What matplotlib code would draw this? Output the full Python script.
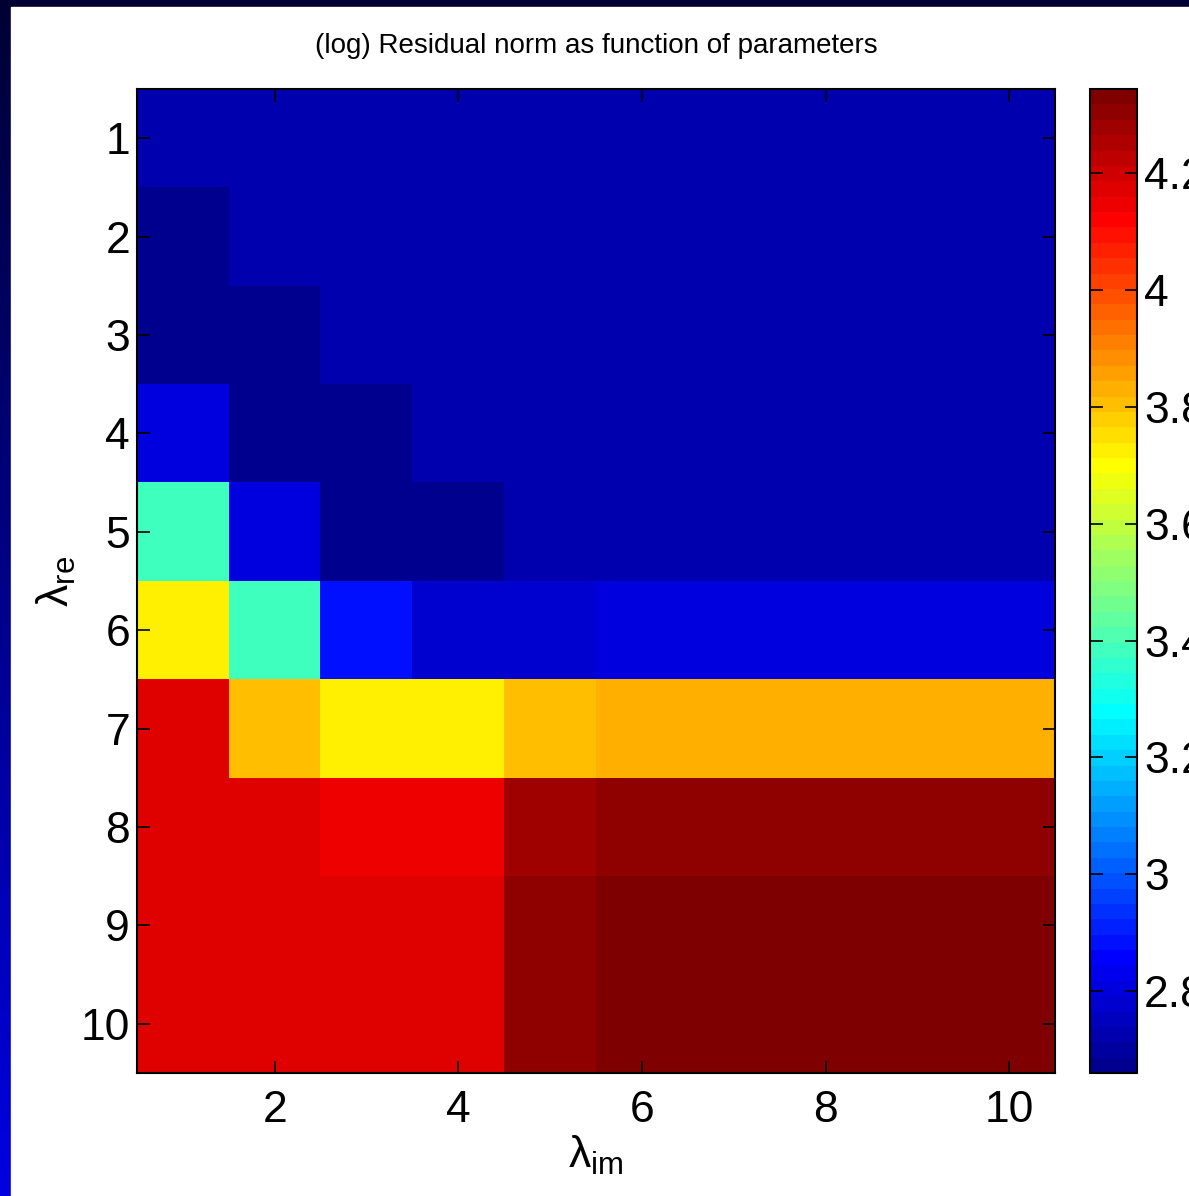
import numpy as np
import matplotlib
matplotlib.use('Agg')
import matplotlib.pyplot as plt
from matplotlib.colors import ListedColormap
from matplotlib.patches import Rectangle

plt.rcParams['font.family'] = ['Liberation Sans Narrow', 'Liberation Sans', 'DejaVu Sans']
plt.rcParams['mathtext.fontset'] = 'custom'
plt.rcParams['mathtext.rm'] = 'Liberation Sans'

# parameter grid
lam_im = np.arange(1, 11)
lam_re = np.arange(1, 11)

# log residual norm, rows = lambda_re 1..10, cols = lambda_im 1..10
row1 = [2.726, 2.726, 2.726, 2.726, 2.726, 2.726, 2.726, 2.726, 2.726, 2.726]
row2 = [2.673, 2.726, 2.726, 2.726, 2.726, 2.726, 2.726, 2.726, 2.726, 2.726]
row3 = [2.670, 2.672, 2.726, 2.726, 2.726, 2.726, 2.726, 2.726, 2.726, 2.726]
row4 = [2.805, 2.668, 2.665, 2.726, 2.726, 2.726, 2.726, 2.726, 2.726, 2.726]
row5 = [3.384, 2.805, 2.662, 2.660, 2.726, 2.726, 2.726, 2.726, 2.726, 2.726]
row6 = [3.726, 3.384, 2.884, 2.778, 2.778, 2.805, 2.805, 2.805, 2.805, 2.805]
row7 = [4.173, 3.805, 3.726, 3.726, 3.805, 3.831, 3.831, 3.831, 3.831, 3.831]
row8 = [4.173, 4.173, 4.147, 4.147, 4.279, 4.305, 4.305, 4.305, 4.305, 4.305]
row9 = [4.173, 4.173, 4.173, 4.173, 4.305, 4.331, 4.335, 4.338, 4.340, 4.342]
row10 = [4.173, 4.173, 4.173, 4.173, 4.305, 4.333, 4.337, 4.339, 4.341, 4.344]
Z = np.array([row1, row2, row3, row4, row5, row6, row7, row8, row9, row10])

x_ticks = [2, 4, 6, 8, 10]
y_ticks = list(range(1, 11))
cb_ticks = [2.8, 3.0, 3.2, 3.4, 3.6, 3.8, 4.0, 4.2]
cb_labels = ['2.8', '3', '3.2', '3.4', '3.6', '3.8', '4', '4.2']

# MATLAB jet(64)
n, m = 64, 16
u = np.concatenate([np.arange(1, m + 1) / m, np.ones(m - 1), np.arange(m, 0, -1) / m])
g = 8 + np.arange(1, len(u) + 1)
r = g + m
b = g - m
J = np.zeros((n, 3))
J[r[r <= n] - 1, 0] = u[r <= n]
J[g[g <= n] - 1, 1] = u[g <= n]
J[b[b >= 1] - 1, 2] = u[b >= 1]
jet64 = ListedColormap(J)

W, H = 1189, 1196
fig = plt.figure(figsize=(W / 100, H / 100), dpi=100)

# slide background: navy gradient with white panel
bg = fig.add_axes([0, 0, 1, 1], zorder=-10)
grad = np.linspace(0, 1, 256).reshape(-1, 1)
bg_cmap = ListedColormap(np.column_stack([np.zeros(256), np.zeros(256), np.linspace(0.2, 0.88, 256)]))
bg.imshow(grad, aspect='auto', cmap=bg_cmap, extent=[0, 1, 0, 1], origin='upper')
bg.add_patch(Rectangle((11 / W, 0), 1, 1 - 7 / H, color='white', transform=bg.transAxes))
bg.set_xlim(0, 1)
bg.set_ylim(0, 1)
bg.axis('off')

ax = fig.add_axes([137 / W, (H - 1073) / H, 918 / W, 984 / H])
im = ax.imshow(Z, cmap=jet64, aspect='auto', interpolation='nearest',
               extent=[lam_im[0] - 0.5, lam_im[-1] + 0.5, lam_re[-1] + 0.5, lam_re[0] - 0.5])
ax.set_xticks(x_ticks)
ax.set_yticks(y_ticks)
ax.tick_params(direction='in', length=9, width=1.2, labelsize=32, top=True, right=True, pad=5)
ax.tick_params(axis='x', pad=12)
for s in ax.spines.values():
    s.set_linewidth(1.5)
ax.set_title('(log) Residual norm as function of parameters', fontsize=20, pad=26)
ax.set_xlabel(r'$\mathregular{\lambda_{im}}$', fontsize=32, labelpad=2)
ax.set_ylabel(r'$\mathregular{\lambda_{re}}$', fontsize=32, labelpad=2)

cax = fig.add_axes([1090 / W, (H - 1073) / H, 47 / W, 984 / H])
cb = fig.colorbar(im, cax=cax, ticks=cb_ticks)
cb.ax.set_yticklabels(cb_labels)
cb.ax.tick_params(direction='in', length=9, width=1.2, labelsize=32, left=True, right=True, pad=5)
cb.outline.set_linewidth(1.5)

fig.savefig('out.png', dpi=100)
